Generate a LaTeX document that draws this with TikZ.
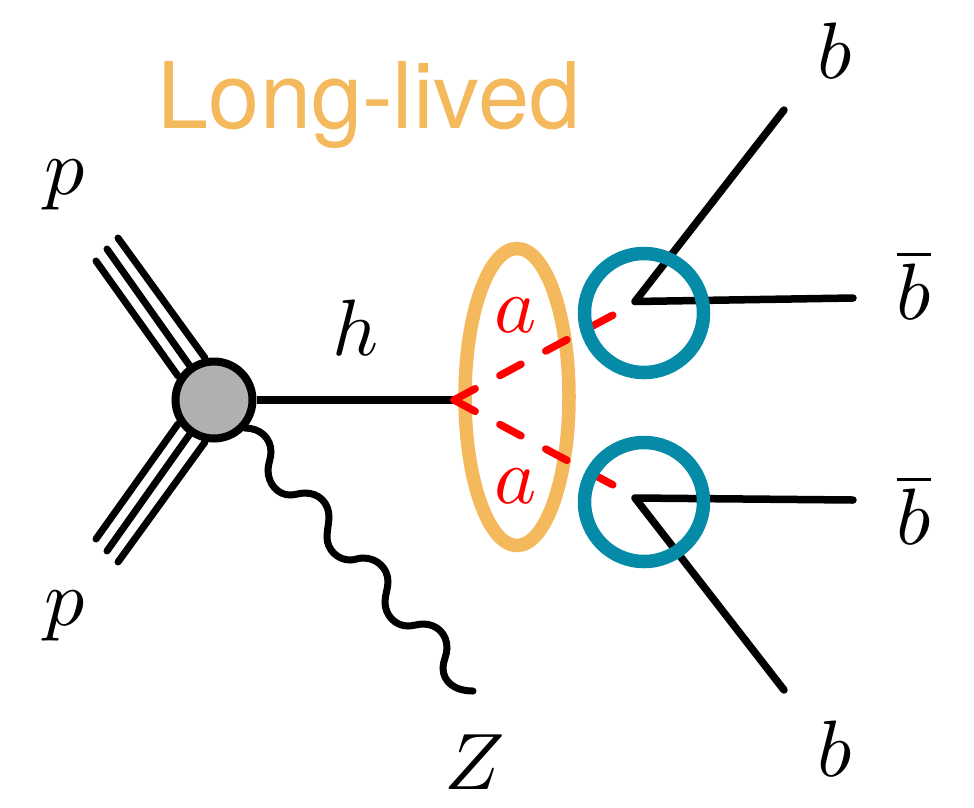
\documentclass[tikz,border=0pt]{standalone}
\usepackage{fontspec}
\newfontfamily\headfont{TeX Gyre Heros}
\definecolor{lorange}{HTML}{F4B95C}
\definecolor{lteal}{HTML}{058BA8}
\definecolor{lgray}{HTML}{B0B0B0}
\newcommand{\barb}{\overline{\smash{b}\rule{0pt}{6.7pt}}}
\tikzset{
  fermion/.style={draw=black,line width=7.5pt,line cap=round},
  thinline/.style={draw=black,line width=7pt,line cap=round},
  scalarline/.style={draw=red,line width=7.5pt,line cap=round,dash pattern=on 24pt off 28pt},
  vertexblob/.style={circle,draw=black,fill=lgray,line width=8pt,minimum size=77pt,inner sep=0pt},
  tealring/.style={circle,draw=lteal,line width=13.5pt,minimum size=119pt,inner sep=0pt},
  orangering/.style={ellipse,draw=lorange,line width=13.5pt,minimum width=104pt,minimum height=297pt,inner sep=0pt},
  mathlabel/.style={scale=8,inner sep=0pt,outer sep=0pt,text=black,anchor=base},
}
\usetikzlibrary{shapes.geometric}
\begin{document}
\begin{tikzpicture}[x=1pt,y=-1pt]
\useasboundingbox (0,0) rectangle (974,807);
% coordinates
\coordinate (t1) at (96,261); \coordinate (t1e) at (178,376);
\coordinate (t2) at (107,249); \coordinate (t2e) at (192,369);
\coordinate (t3) at (118,238); \coordinate (t3e) at (205,358);
\coordinate (b1) at (96,539); \coordinate (b1e) at (178,424);
\coordinate (b2) at (107,551); \coordinate (b2e) at (192,431);
\coordinate (b3) at (118,562); \coordinate (b3e) at (205,442);
\coordinate (tip) at (454,400);
\coordinate (up) at (635,301.5);
\coordinate (dn) at (635,498);
\coordinate (aup) at (615,314);
\coordinate (adn) at (615,486);
\coordinate (bt) at (784,110);
\coordinate (bbt) at (853,298);
\coordinate (bbb) at (853,500);
\coordinate (bb) at (784,690);
\coordinate (zend) at (473,691);
% orange ellipse
\node[orangering] (ell) at (517,397) {};
% beams
\draw[thinline] (t1) -- (t1e);
\draw[thinline] (t2) -- (t2e);
\draw[thinline] (t3) -- (t3e);
\draw[thinline] (b1) -- (b1e);
\draw[thinline] (b2) -- (b2e);
\draw[thinline] (b3) -- (b3e);
% blob
\node[vertexblob] (blob) at (214,400) {};
\draw[fermion,line cap=butt] (blob) -- (tip);
% wave
\draw[thinline] (245,428)
 .. controls (260,428) and (271,438) .. (271,452)
 .. controls (271,458) and (268,464) .. (268,470)
 .. controls (268,484) and (278,495) .. (290,495)
 .. controls (295,495) and (300,493) .. (305,493)
 .. controls (319,493) and (329,503) .. (329,517)
 .. controls (329,523) and (327,530) .. (327,537)
 .. controls (327,550) and (338,560) .. (350,560)
 .. controls (355,560) and (358,558) .. (363,558)
 .. controls (377,558) and (388,568) .. (388,582)
 .. controls (388,588) and (385,595) .. (385,602)
 .. controls (385,615) and (395,626) .. (408,626)
 .. controls (413,626) and (418,624) .. (423,624)
 .. controls (437,624) and (447,634) .. (447,648)
 .. controls (447,655) and (443,661) .. (443,668)
 .. controls (443,682) and (455,691) .. (zend);
% red scalars
\draw[scalarline] (tip) -- (aup);
\draw[scalarline] (tip) -- (adn);
% b lines
\draw[fermion,line join=round] (bt) -- (up) -- (bbt);
\draw[fermion,line join=round] (bbb) -- (dn) -- (bb);
% teal rings
\node[tealring] (ru) at (644,313) {};
\node[tealring] (rd) at (644,502) {};
% labels
\node[text=lorange,font=\fontsize{92}{92}\headfont,inner sep=0pt,anchor=base] (title) at (369,128) {Long-lived};
\node[mathlabel] (lp1) at (65,194) {$p$};
\node[mathlabel] (lp2) at (65,625) {$p$};
\node[mathlabel] (lh) at (356,355) {$h$};
\node[mathlabel,text=red] (la1) at (516,332) {$a$};
\node[mathlabel,text=red] (la2) at (516,503) {$a$};
\node[mathlabel] (lb1) at (835,78) {$b$};
\node[mathlabel] (lb2) at (914,319) {$\barb$};
\node[mathlabel] (lb3) at (914,544) {$\barb$};
\node[mathlabel] (lb4) at (835,776) {$b$};
\node[mathlabel] (lz) at (475,789) {$Z$};
\end{tikzpicture}
\end{document}
